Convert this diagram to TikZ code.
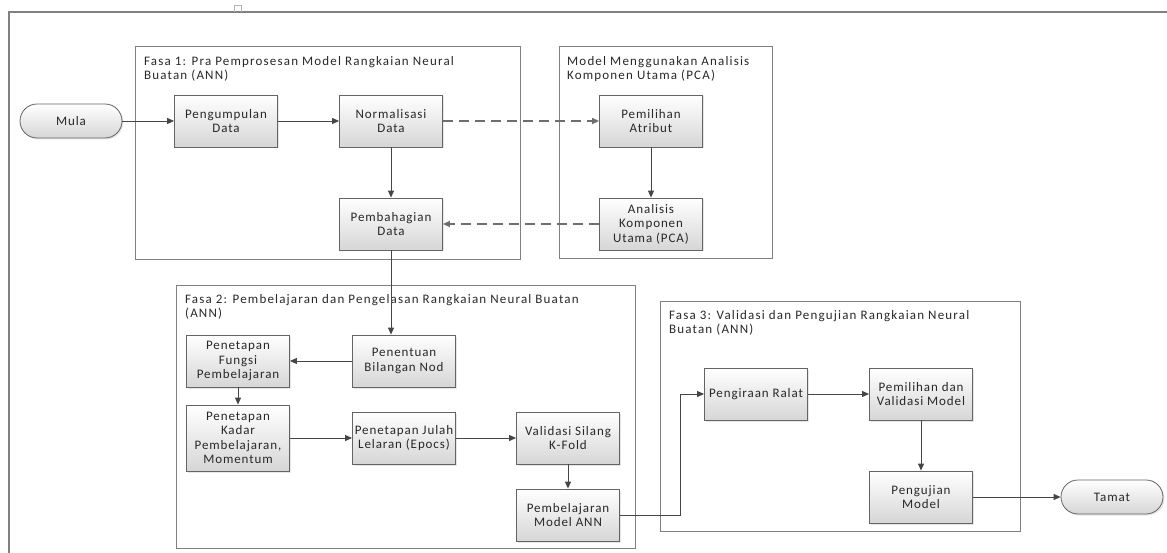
\documentclass[tikz,border=0pt]{standalone}
\usepackage{fontspec}
\setmainfont{Carlito}[LetterSpace=7]
\newfontfamily\titlefont{Carlito}[LetterSpace=9]
\usepackage{tikz}
\usetikzlibrary{shapes, arrows.meta, positioning, calc, shadows}
\definecolor{framegray}{RGB}{128, 128, 128}
\definecolor{boxborder}{RGB}{100, 100, 100}
\definecolor{boxbottom}{RGB}{214, 214, 214}
\definecolor{textgray}{RGB}{40, 40, 40}
\definecolor{arrowgray}{RGB}{70, 70, 70}
\definecolor{dashgray}{RGB}{110, 110, 110}
\tikzset{
  >=Triangle,
  flowarrow/.style={-{Triangle[length=7pt, width=6pt]}, line width=0.9pt, arrowgray},
  flowarrow_dash/.style={-{Triangle[length=7pt, width=6pt]}, line width=1.4pt, dashgray, dash pattern=on 10pt off 6pt},
  plainline/.style={line width=0.9pt, arrowgray}
}

\begin{document}
\begin{tikzpicture}[
    x=1pt, y=-1pt,
    font=\fontsize{13}{14.5}\selectfont, text=textgray,
    box/.style={rectangle, draw=boxborder, line width=0.8pt, top color=white, bottom color=boxbottom, minimum width=103pt, minimum height=52pt, inner sep=2pt, align=center, drop shadow={opacity=0.2, shadow xshift=1.5pt, shadow yshift=-1.5pt}},
    terminal/.style={rectangle, rounded corners=17pt, draw=boxborder, line width=0.8pt, top color=white, bottom color=boxbottom, minimum width=102pt, minimum height=34pt, align=center, drop shadow={opacity=0.2, shadow xshift=1.5pt, shadow yshift=-1.5pt}},
    phase/.style={rectangle, draw=framegray, line width=1.3pt, anchor=north west, inner sep=0pt},
    phasetitle/.style={anchor=north west, align=left, inner sep=0pt, font=\titlefont\fontsize{13}{14.2}\selectfont}
]
    \useasboundingbox (0,0) rectangle (1167,553);
    \draw[framegray, line width=1.3pt] (9,553) -- (9,12) -- (1167,12);
    \draw[framegray!60, line width=0.6pt] (234,12) -- (234,5) -- (241,5) -- (241,12);

    % Phase frames
    \node[phase, minimum width=385pt, minimum height=213pt] (fasa1) at (135,46) {};
    \node[phasetitle] (fasa1title) at ([xshift=9pt, yshift=-10pt]fasa1.north west) {Fasa 1: Pra Pemprosesan Model Rangkaian Neural\\Buatan (ANN)};
    \node[phase, minimum width=213pt, minimum height=212pt] (pca) at (559,46) {};
    \node[phasetitle] (pcatitle) at ([xshift=8pt, yshift=-10pt]pca.north west) {Model Menggunakan Analisis\\Komponen Utama (PCA)};
    \node[phase, minimum width=459pt, minimum height=263pt] (fasa2) at (176,285) {};
    \node[phasetitle] (fasa2title) at ([xshift=9pt, yshift=-9pt]fasa2.north west) {Fasa 2: Pembelajaran dan Pengelasan Rangkaian Neural Buatan\\(ANN)};
    \node[phase, minimum width=360pt, minimum height=230pt] (fasa3) at (660,301) {};
    \node[phasetitle] (fasa3title) at ([xshift=9pt, yshift=-9pt]fasa3.north west) {Fasa 3: Validasi dan Pengujian Rangkaian Neural\\Buatan (ANN)};

    \node[terminal] (mula) at (71,121) {Mula};
    \node[box] (kumpul) at (226,121) {Pengumpulan\\Data};
    \node[box] (normal) at (391,121) {Normalisasi\\Data};
    \node[box] (bahagi) at (391,224) {Pembahagian\\Data};
    \node[box] (atribut) at (651,121) {Pemilihan\\Atribut};
    \node[box] (analisis) at (651,224) {Analisis\\Komponen\\Utama (PCA)};

    \node[box] (nod) at (404,361) {Penentuan\\Bilangan Nod};
    \node[box] (fungsi) at (238,361) {Penetapan\\Fungsi\\Pembelajaran};
    \node[box, minimum height=66pt] (kadar) at (238,438) {Penetapan\\Kadar\\Pembelajaran,\\Momentum};
    \node[box] (lelaran) at (404,438) {Penetapan Julah\\Lelaran (Epocs)};
    \node[box] (kfold) at (568,438) {Validasi Silang\\K-Fold};
    \node[box] (latih) at (568,515) {Pembelajaran\\Model ANN};

    \node[box] (ralat) at (756,394) {Pengiraan Ralat};
    \node[box] (pilih) at (921,394) {Pemilihan dan\\Validasi Model};
    \node[box] (uji) at (921,497) {Pengujian\\Model};
    \node[terminal] (tamat) at (1112,497) {Tamat};
    \coordinate (elbow) at (680,394);

    \draw[flowarrow] (mula) -- (kumpul);
    \draw[flowarrow] (kumpul) -- (normal);
    \draw[flowarrow] (normal) -- (bahagi);
    \draw[flowarrow] (atribut) -- (analisis);
    \draw[flowarrow_dash] (normal) -- (atribut);
    \draw[flowarrow_dash] (analisis) -- (bahagi);

    \draw[flowarrow] (bahagi.south) -- (bahagi.south |- nod.north);
    \draw[flowarrow] (nod) -- (fungsi);
    \draw[flowarrow] (fungsi) -- (kadar);
    \draw[flowarrow] (kadar) -- (lelaran);
    \draw[flowarrow] (lelaran) -- (kfold);
    \draw[flowarrow] (kfold) -- (latih);

    \draw[flowarrow] (latih.east) -| (elbow) -- (ralat.west);
    \draw[flowarrow] (ralat) -- (pilih);
    \draw[flowarrow] (pilih) -- (uji);
    \draw[flowarrow] (uji) -- (tamat);
\end{tikzpicture}
\end{document}
